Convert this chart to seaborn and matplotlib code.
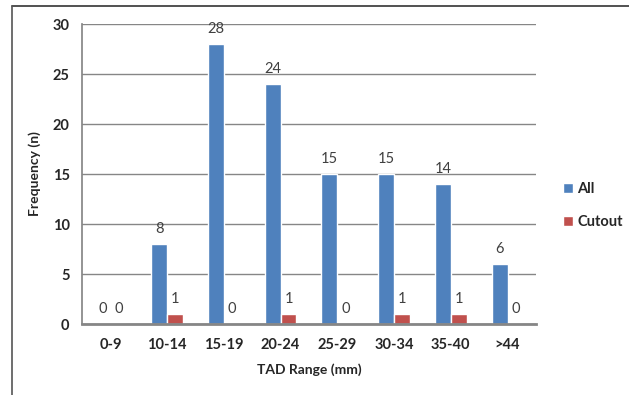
import matplotlib
matplotlib.use("Agg")
import matplotlib.pyplot as plt
from matplotlib.lines import Line2D
import seaborn as sns
import pandas as pd

# TAD range bins and frequencies
categories = ["0-9", "10-14", "15-19", "20-24", "25-29", "30-34", "35-40", ">44"]
all_counts = [0, 8, 28, 24, 15, 15, 14, 6]
cutout_counts = [0, 1, 0, 1, 0, 1, 1, 0]
series_names = ["All", "Cutout"]
y_ticks = [0, 5, 10, 15, 20, 25, 30]

df = pd.DataFrame({
    "range": categories * 2,
    "count": all_counts + cutout_counts,
    "series": [series_names[0]] * len(categories) + [series_names[1]] * len(categories),
})

sns.set_theme(style="white")
plt.rcParams["font.family"] = ["Lato", "DejaVu Sans"]

fig = plt.figure(figsize=(6.29, 3.95), dpi=100)
ax = fig.add_axes([0.1304, 0.1797, 0.852 - 0.1304, 0.9392 - 0.1797])

palette = {"All": "#4F81BD", "Cutout": "#C0504D"}
sns.barplot(data=df, x="range", y="count", hue="series", order=categories,
            hue_order=series_names, palette=palette, width=0.56, gap=0,
            saturation=1, ax=ax, legend=True)

for cont in ax.containers:
    ax.bar_label(cont, labels=[f"{int(v)}" for v in cont.datavalues],
                 padding=6, fontsize=10.5, color="#404040")

ax.set_ylim(0, 30)
ax.set_yticks(y_ticks)
ax.yaxis.grid(True, color="#868686", linewidth=1)
ax.set_axisbelow(True)
for s in ["top", "right"]:
    ax.spines[s].set_visible(False)
ax.spines["left"].set_color("#868686")
ax.spines["bottom"].set_color("#868686")
ax.spines["bottom"].set_linewidth(2)
ax.tick_params(axis="y", length=5, color="#868686", labelsize=10.5, pad=4)
ax.tick_params(axis="x", length=0, labelsize=10.5, pad=10)
for lbl in ax.get_xticklabels() + ax.get_yticklabels():
    lbl.set_fontweight("bold")

ax.set_xlabel("TAD Range (mm)", fontsize=10, fontweight="bold", labelpad=8)
ax.set_ylabel("Frequency (n)", fontsize=10, fontweight="bold", labelpad=8)

handles, labels = ax.get_legend_handles_labels()
ax.legend_.remove()
fig.legend(handles, labels, loc="center left", bbox_to_anchor=(0.874, 0.48),
           frameon=False, handlelength=0.7, handleheight=0.7,
           handletextpad=0.3, labelspacing=1.3, prop={"weight": "bold", "size": 10.5})

# chart area outline
fig.add_artist(Line2D([12 / 629, 1.0], [1 - 6 / 395, 1 - 6 / 395],
                      transform=fig.transFigure, color="#333333", linewidth=1.2))
fig.add_artist(Line2D([12 / 629, 12 / 629], [0.0, 1 - 6 / 395],
                      transform=fig.transFigure, color="#555555", linewidth=1.2))

fig.savefig("out.png", dpi=100)
